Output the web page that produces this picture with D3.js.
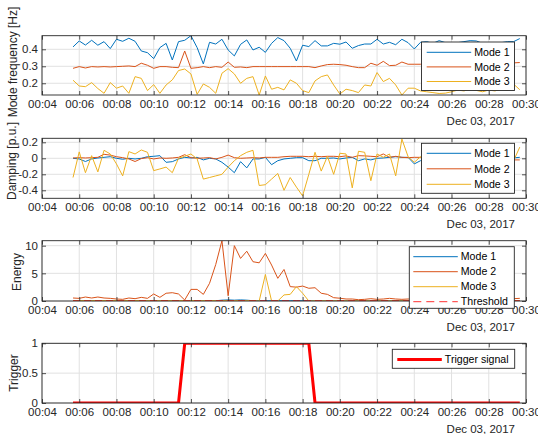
<!DOCTYPE html>
<html>
<head>
<meta charset="utf-8">
<script src="https://cdn.jsdelivr.net/npm/d3@7"></script>
<style>
body { margin: 0; background: #fff; }
svg { display: block; font-family: "Liberation Sans", Arial, Helvetica, sans-serif; }
</style>
</head>
<body>
<div class="canvas"></div>
<script>
// sample times (Dec 03, 2017), one every 20 s
const times = [
  '00:05:40','00:06:00','00:06:20','00:06:40','00:07:00','00:07:20','00:07:40','00:08:00','00:08:20','00:08:40',
  '00:09:00','00:09:20','00:09:40','00:10:00','00:10:20','00:10:40','00:11:00','00:11:20','00:11:40','00:12:00',
  '00:12:20','00:12:40','00:13:00','00:13:20','00:13:40','00:14:00','00:14:20','00:14:40','00:15:00','00:15:20',
  '00:15:40','00:16:00','00:16:20','00:16:40','00:17:00','00:17:20','00:17:40','00:18:00','00:18:20','00:18:40',
  '00:19:00','00:19:20','00:19:40','00:20:00','00:20:20','00:20:40','00:21:00','00:21:20','00:21:40','00:22:00',
  '00:22:20','00:22:40','00:23:00','00:23:20','00:23:40','00:24:00','00:24:20','00:24:40','00:25:00','00:25:20',
  '00:25:40','00:26:00','00:26:20','00:26:40','00:27:00','00:27:20','00:27:40','00:28:00','00:28:20','00:28:40',
  '00:29:00','00:29:20','00:29:40'
];

const modeNames = ['Mode 1', 'Mode 2', 'Mode 3'];

// mode frequency [Hz]
const freqMode1 = [.414,.449,.425,.453,.424,.445,.404,.459,.447,.465,.447,.390,.380,.345,.410,.435,.337,.445,.453,.480,
  .410,.314,.441,.431,.459,.396,.361,.429,.455,.396,.412,.382,.435,.469,.451,.406,.331,.424,.416,.451,
  .420,.420,.435,.430,.443,.406,.422,.431,.431,.459,.431,.441,.427,.459,.439,.402,.441,.445,.435,.451,
  .439,.435,.439,.445,.451,.449,.435,.439,.435,.439,.445,.445,.463];
const freqMode2 = [.288,.298,.290,.298,.296,.298,.296,.298,.300,.302,.298,.318,.306,.288,.298,.298,.294,.292,.390,.288,
  .292,.298,.292,.298,.294,.325,.294,.296,.292,.298,.298,.298,.298,.298,.298,.298,.298,.298,.298,.292,
  .302,.310,.312,.310,.306,.298,.292,.292,.318,.306,.329,.304,.306,.325,.312,.312,.312,.316,.318,.314,
  .316,.318,.315,.318,.316,.318,.315,.317,.318,.316,.318,.320,.322];
const freqMode3 = [.218,.184,.180,.204,.169,.141,.204,.171,.184,.141,.239,.229,.157,.192,.141,.190,.220,.275,.284,.255,
  .135,.196,.176,.141,.259,.286,.255,.200,.229,.239,.131,.243,.165,.176,.161,.220,.200,.157,.145,.214,
  .239,.249,.190,.137,.165,.157,.145,.190,.184,.263,.210,.229,.190,.131,.171,.171,.155,.150,.145,.140,
  .142,.150,.160,.155,.165,.158,.150,.160,.155,.165,.160,.195,.162];

// damping [p.u.]
const dampMode1 = [0,-.008,-.04,-.008,.004,.012,.02,0,-.012,0,-.008,0,.02,.025,.033,-.05,-.042,-.008,.012,.004,
  .012,-.02,0,-.008,-.05,-.11,-.18,-.042,-.12,-.008,-.008,.012,-.08,-.03,-.008,0,.008,.008,-.03,-.03,
  0,0,.004,-.008,.004,.012,-.03,-.008,-.02,0,.004,.012,.02,.012,.012,-.07,-.03,.01,0,.005,
  .01,0,.005,0,.01,0,.005,0,.005,.01,0,.005,.012];
const dampMode2 = [.004,.008,.004,.008,.012,.05,.04,.02,.008,-.008,-.04,-.004,.008,-.008,.004,0,.004,.012,.045,.008,
  0,.004,.008,-.008,.012,.04,.008,0,.004,.008,.004,.012,.012,.012,.02,.025,.025,.025,.02,.025,
  .02,.025,.025,.02,.03,.012,.033,.03,.025,.02,.054,.012,.025,.012,.008,.012,.012,.01,.005,.01,
  .005,.01,0,.005,.01,0,.005,-.01,0,-.005,-.01,-.02,-.02];
const dampMode3 = [-.24,.08,-.18,.033,-.17,.10,.054,-.07,-.22,.083,.054,.104,.075,-.154,-.133,-.11,-.18,0,.025,.054,
  -.008,-.26,-.24,-.22,-.20,-.11,-.03,.033,.075,.10,-.34,-.33,-.26,-.19,-.40,-.24,-.36,-.47,-.20,.075,
  -.16,.025,-.20,.063,.054,-.37,.088,.075,-.28,.054,.013,.054,-.22,.24,.02,-.05,.02,-.10,.05,-.08,
  .06,-.05,.03,-.12,.04,-.06,.08,-.03,.05,-.09,.02,-.03,.14];

// energy
const energyMode1 = [.05,.05,.05,.05,.05,.05,.05,.05,.05,.05,.05,.05,.05,.05,.05,.05,.05,.05,.05,.05,
  .05,.05,.05,.05,.15,.2,.15,.2,.15,.05,.05,.05,.05,.05,.05,.05,.05,.05,.05,.05,
  .05,.05,.05,.05,.05,.05,.05,.05,.05,.05,.05,.05,.05,.05,.05,.05,.05,.05,.05,.05,
  .05,.05,.05,.05,.05,.05,.05,.05,.05,.05,.05,.05,.05];
const energyMode2 = [.54,.48,.72,.54,.72,.54,.48,.36,.30,.54,.42,.66,.48,1.27,.66,1.4,1.5,1.27,.18,2.1,
  2.1,1.2,3.2,6.6,10.9,.96,10.0,7.7,9.0,7.1,6.9,8.6,6.5,4.1,5.7,2.6,2.5,2.7,2.3,2.4,
  1.4,1.2,.6,.5,.36,.36,.24,.3,.42,.3,.36,.48,.36,.3,.36,.3,.36,.3,.24,.3,
  .36,.3,.24,.3,.36,.3,.24,.3,.36,.3,.3,.42,.48];
const energyMode3 = [.08,.08,.08,.08,.08,.08,.08,.08,.08,.08,.08,.08,.08,.08,.08,.08,.08,.08,.08,.08,
  .08,.08,.08,.08,.08,.08,.08,.08,.08,.08,0,4.8,0,0,1.1,1.2,2.6,1.4,0,.05,
  .05,.05,.05,.05,.05,.05,.05,.05,.05,.05,.05,.05,.05,.05,.05,.05,.05,.05,.05,.05,
  .05,.05,.05,.05,.05,.05,.05,.05,.05,.05,.05,.05,.05];
const threshold = 0.05;

// trigger signal
const trigger = [0,0,0,0,0,0,0,0,0,0,0,0,0,0,0,0,0,0,1,1,
  1,1,1,1,1,1,1,1,1,1,1,1,1,1,1,1,1,1,1,0,
  0,0,0,0,0,0,0,0,0,0,0,0,0,0,0,0,0,0,0,0,
  0,0,0,0,0,0,0,0,0,0,0,0,0];

const colors = ['#0072bd', '#d95319', '#edb120'];
const ink = '#262626';

const svg = d3.select('.canvas')
  .append('svg')
  .attr('width', 538)
  .attr('height', 434);

const parseTime = d3.timeParse('%Y-%m-%d %H:%M:%S');
const dates = times.map(t => parseTime('2017-12-03 ' + t));

const x = d3.scaleTime()
  .domain([parseTime('2017-12-03 00:04:00'), parseTime('2017-12-03 00:30:00')])
  .range([42, 526]);
const xTicks = x.ticks(d3.timeMinute.every(2));

function drawPanel(p) {
  const y = d3.scaleLinear().domain(p.yDomain).range([p.bottom, p.top]);
  const g = svg.append('g');

  g.append('clipPath').attr('id', 'clip' + p.id)
    .append('rect')
    .attr('x', 42).attr('y', p.top)
    .attr('width', 484).attr('height', p.bottom - p.top);

  // grid
  g.append('g').selectAll('line').data(xTicks).enter().append('line')
    .attr('x1', d => x(d)).attr('x2', d => x(d))
    .attr('y1', p.top).attr('y2', p.bottom)
    .attr('stroke', '#e1e1e1');
  g.append('g').selectAll('line').data(p.yTicks).enter().append('line')
    .attr('x1', 42).attr('x2', 526)
    .attr('y1', d => y(d)).attr('y2', d => y(d))
    .attr('stroke', '#e1e1e1');

  // data lines
  const line = d3.line().x((d, i) => x(dates[i])).y(d => y(d));
  const plot = g.append('g').attr('clip-path', `url(#clip${p.id})`);
  p.series.forEach(s => {
    plot.append('path')
      .attr('d', line(s.values))
      .attr('fill', 'none')
      .attr('stroke', s.color)
      .attr('stroke-width', s.width || 1)
      .attr('stroke-linejoin', 'round');
  });
  if (p.threshold !== undefined) {
    plot.append('line')
      .attr('x1', x(dates[0])).attr('x2', x(dates[dates.length - 1]))
      .attr('y1', y(p.threshold)).attr('y2', y(p.threshold))
      .attr('stroke', '#ff2020').attr('stroke-width', 1)
      .attr('stroke-dasharray', '7,4');
  }

  // axes
  const xAxis = g.append('g').attr('transform', `translate(0,${p.bottom})`)
    .call(d3.axisBottom(x).tickValues(xTicks).tickFormat(d3.timeFormat('%H:%M'))
      .tickSizeInner(-4).tickSizeOuter(0).tickPadding(4.5));
  g.append('g').attr('transform', `translate(0,${p.top})`)
    .call(d3.axisTop(x).tickValues(xTicks).tickFormat('').tickSizeInner(-4).tickSizeOuter(0));
  g.append('g').attr('transform', 'translate(42,0)')
    .call(d3.axisLeft(y).tickValues(p.yTicks).tickFormat(d => String(d))
      .tickSizeInner(-4).tickSizeOuter(0).tickPadding(4));
  g.append('g').attr('transform', 'translate(526,0)')
    .call(d3.axisRight(y).tickValues(p.yTicks).tickFormat('').tickSizeInner(-4).tickSizeOuter(0));

  g.selectAll('.domain').remove();
  g.selectAll('.tick line').attr('stroke', ink).attr('stroke-width', 0.8);
  g.selectAll('.tick text').attr('fill', ink)
    .attr('font-size', 11.5).attr('font-family', null);

  g.append('rect')
    .attr('x', 42).attr('y', p.top)
    .attr('width', 484).attr('height', p.bottom - p.top)
    .attr('fill', 'none').attr('stroke', ink).attr('stroke-width', 0.9);

  // date label
  g.append('text')
    .attr('x', 515).attr('y', p.bottom + 30)
    .attr('text-anchor', 'end').attr('font-size', 11.5).attr('fill', ink)
    .text('Dec 03, 2017');

  // y label
  g.append('text')
    .attr('transform', `translate(${p.labelX},${p.labelY}) rotate(-90)`)
    .attr('text-anchor', 'middle').attr('font-size', 12).attr('fill', ink)
    .text(p.yLabel);

  // legend
  const L = p.legend;
  const leg = g.append('g').attr('transform', `translate(${L.x},${L.y})`);
  leg.append('rect')
    .attr('width', L.w).attr('height', L.h)
    .attr('fill', '#fff').attr('stroke', ink).attr('stroke-width', 0.9);
  L.items.forEach((it, i) => {
    const yy = L.row0 + i * L.step;
    leg.append('line')
      .attr('x1', L.line0).attr('x2', L.line0 + 44.5)
      .attr('y1', yy).attr('y2', yy)
      .attr('stroke', it.color).attr('stroke-width', it.width || 1)
      .attr('stroke-dasharray', it.dash || null);
    leg.append('text')
      .attr('x', L.line0 + 47.5).attr('y', yy).attr('dy', '0.35em')
      .attr('font-size', 10.6).attr('fill', '#000')
      .text(it.name);
  });
}

const modeSeries = vals => vals.map((v, i) => ({ values: v, color: colors[i] }));
const modeItems = modeNames.map((n, i) => ({ name: n, color: colors[i] }));

drawPanel({
  id: 1, top: 35.7, bottom: 95, yDomain: [0.131, 0.48], yTicks: [0.2, 0.3, 0.4],
  yLabel: 'Mode frequency [Hz]', labelX: 17, labelY: 62,
  series: modeSeries([freqMode1, freqMode2, freqMode3]),
  legend: { x: 421.5, y: 42, w: 93, h: 48.5, row0: 10.3, step: 14.6, line0: 5.2, items: modeItems }
});

drawPanel({
  id: 2, top: 138.3, bottom: 198.3, yDomain: [-0.5, 0.25], yTicks: [-0.4, -0.2, 0, 0.2],
  yLabel: 'Damping [p.u.]', labelX: 16, labelY: 161,
  series: modeSeries([dampMode1, dampMode2, dampMode3]),
  legend: { x: 421.5, y: 143.3, w: 93, h: 50, row0: 10, step: 15.5, line0: 5.2, items: modeItems }
});

drawPanel({
  id: 3, top: 240.7, bottom: 301, yDomain: [0, 10.9], yTicks: [0, 5, 10],
  yLabel: 'Energy', labelX: 21, labelY: 272,
  series: modeSeries([energyMode1, energyMode2, energyMode3]),
  threshold: threshold,
  legend: { x: 409.3, y: 246.7, w: 105, h: 61.6, row0: 10, step: 15, line0: 4,
    items: modeItems.concat([{ name: 'Threshold', color: '#ff3030', dash: '8,5' }]) }
});

drawPanel({
  id: 4, top: 343.3, bottom: 403, yDomain: [0, 1], yTicks: [0, 0.5, 1],
  yLabel: 'Trigger', labelX: 18, labelY: 373,
  series: [{ values: trigger, color: '#ff0000', width: 3 }],
  legend: { x: 392.3, y: 349.3, w: 122.4, h: 19, row0: 10.2, step: 15, line0: 5,
    items: [{ name: 'Trigger signal', color: '#ff0000', width: 3 }] }
});
</script>
</body>
</html>
